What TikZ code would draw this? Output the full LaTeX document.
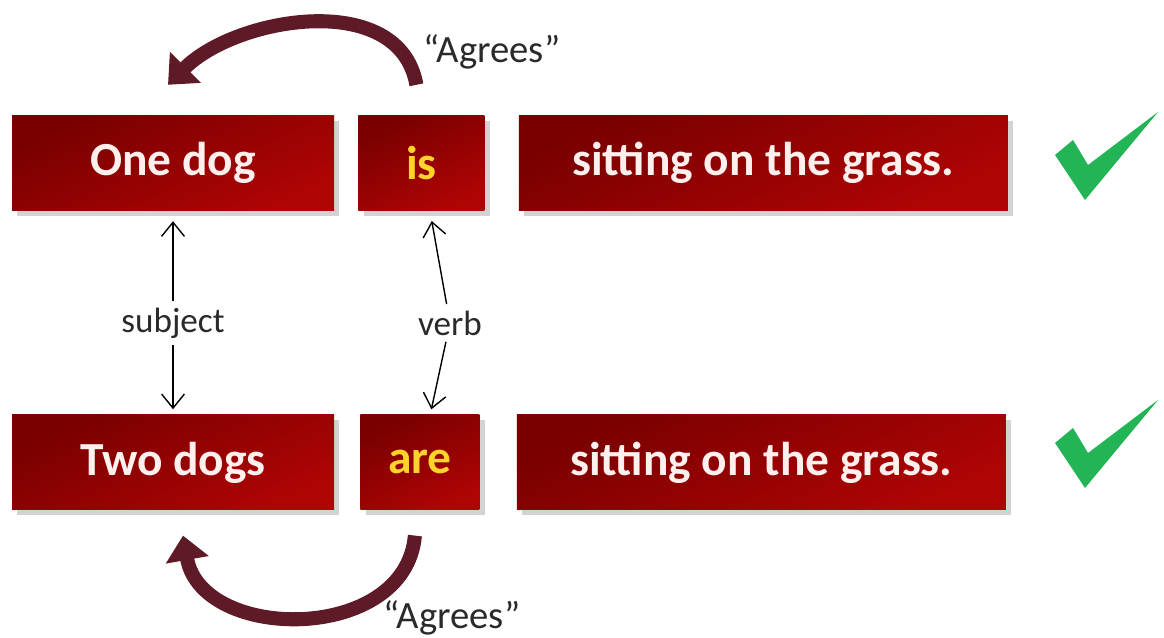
\documentclass[tikz,border=0pt]{standalone}
\usepackage{fontspec}
\setmainfont{Carlito}
\usetikzlibrary{positioning,shadows,arrows.meta}
\definecolor{boxdark}{HTML}{780000}
\definecolor{boxred}{HTML}{B00404}
\definecolor{wordwhite}{HTML}{FFF0EE}
\definecolor{verbyellow}{HTML}{FFD42A}
\definecolor{agreemaroon}{HTML}{5E1A26}
\definecolor{tickgreen}{HTML}{22B455}
\definecolor{labelgray}{HTML}{2A2A2A}

\begin{document}
\begin{tikzpicture}[>={Straight Barb[length=8pt,width=13pt]},thick,node distance=0.5cm,
  word box/.style={rectangle,top color=boxdark,bottom color=boxred,shading angle=25,minimum height=1.9cm,text=wordwhite,font=\fontsize{27}{30}\selectfont\bfseries,drop shadow={shadow xshift=3pt,shadow yshift=-3pt,opacity=0.35}},
  rel label/.style={text=labelgray,font=\fontsize{20}{24}\selectfont},
  agree label/.style={text=labelgray,font=\fontsize{22}{26}\selectfont},
  agree arrow/.style={-{Triangle[width=24pt,length=14pt]},line width=8pt,draw=agreemaroon},
  pics/tick/.style={code={\fill[tickgreen] (-0.9,0.1) -- (-0.54,0.4) -- (-0.24,-0.1) -- (1.16,0.96) -- (-0.3,-0.8) -- cycle;}}]
  \useasboundingbox (0,0) rectangle (23.28,12.76);
  % sentence boxes
  \node[word box,minimum width=6.44cm] (onedog) at (3.46,9.5) {One dog};
  \node[word box,minimum width=2.52cm,text=verbyellow,right=0.46cm of onedog] (is) {is};
  \node[word box,minimum width=9.78cm,right=0.66cm of is] (sit1) {sitting on the grass.};
  \node[word box,minimum width=6.44cm,below=4.06cm of onedog] (twodogs) {Two dogs};
  \node[word box,minimum width=2.38cm,text=verbyellow,right=0.5cm of twodogs] (are) {are};
  \node[word box,minimum width=9.78cm,right=0.72cm of are] (sit2) {sitting on the grass.};
  % subject / verb links
  \node[rel label] (subject) at (3.46,6.3) {subject};
  \node[rel label] (verb) at (9.0,6.3) {verb};
  \draw[->,shorten >=0.2cm] (subject) -- (onedog);
  \draw[->,shorten >=0.1cm] (subject) -- (twodogs);
  \draw[->,shorten >=0.2cm] (verb) -- (is);
  \draw[->,shorten >=0.1cm] (verb) -- (are);
  % agreement arrows
  \coordinate (istail) at ([xshift=-0.1cm,yshift=0.6cm]is.north);
  \coordinate (onehead) at ([xshift=-0.1cm,yshift=0.6cm]onedog.north);
  \coordinate (aretail) at ([xshift=-0.1cm,yshift=-0.5cm]are.south);
  \coordinate (twohead) at ([xshift=0.2cm,yshift=-0.5cm]twodogs.south);
  \draw[agree arrow] (istail) to[out=100,in=45] (onehead);
  \draw[agree arrow] (aretail) to[out=-95,in=-80,looseness=1.2] (twohead);
  \node[agree label] (agree1) at (9.84,11.72) {“Agrees”};
  \node[agree label] (agree2) at (9.04,0.4) {“Agrees”};
  % ticks
  \pic (tick1) at (22.0,9.56) {tick};
  \pic (tick2) at (22.0,3.8) {tick};
\end{tikzpicture}
\end{document}
